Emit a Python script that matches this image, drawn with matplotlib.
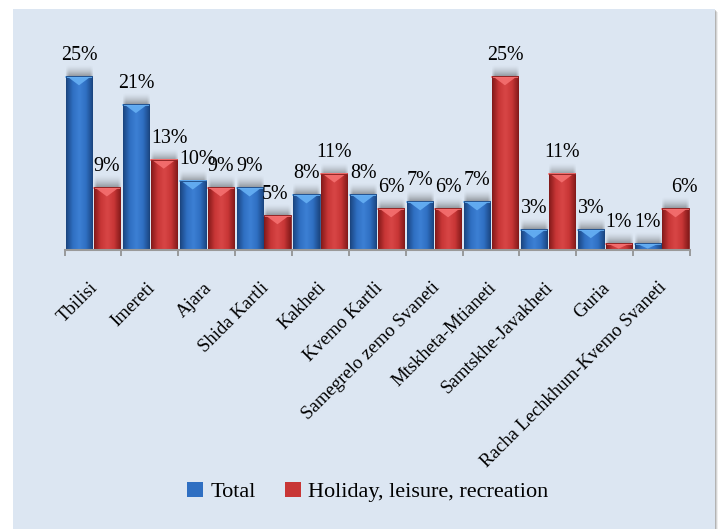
import matplotlib.pyplot as plt
import numpy as np
from matplotlib.colors import LinearSegmentedColormap
from matplotlib.patches import Rectangle, Polygon

regions = ['Tbilisi', 'Imereti', 'Ajara', 'Shida Kartli', 'Kakheti', 'Kvemo Kartli',
           'Samegrelo zemo Svaneti', 'Mtskheta-Mtianeti', 'Samtskhe-Javakheti', 'Guria',
           'Racha Lechkhum-Kvemo Svaneti']
total = [25, 21, 10, 9, 8, 8, 7, 7, 3, 3, 1]
holiday = [9, 13, 9, 5, 11, 6, 6, 25, 11, 1, 6]
seriesNames = ['Total', 'Holiday, leisure, recreation']

plt.rcParams['font.family'] = ['Liberation Serif', 'DejaVu Serif']

W, H = 722, 529
fig = plt.figure(figsize=(W / 100, H / 100), dpi=100)
fig.patch.set_facecolor('white')

# panel with a soft shadow on the right
for k, a in enumerate([0.10, 0.18, 0.28]):
    off = 3 - k
    fig.patches.append(Rectangle(((13 + off) / W, 0), 702 / W, (520 - off) / H,
                                 transform=fig.transFigure, facecolor='#606060',
                                 alpha=a, edgecolor='none', zorder=-3))
fig.patches.append(Rectangle((13 / W, 0), 702 / W, 520 / H, transform=fig.transFigure,
                             facecolor='#dce6f2', edgecolor='none', zorder=-2))

axTop, axBase = 30, 250
ax = fig.add_axes([64.5 / W, (H - axBase) / H, 625.5 / W, (axBase - axTop) / H])
ax.set_facecolor('none')
ymax = 25 * (axBase - axTop) / (axBase - 76.3)
pxY = ymax / (axBase - axTop)
pxX = 11 / 625.5

styles = {
    'Total': dict(dark='#1a4580', mid='#2f6fc2', light='#3d80d4', tri='#66b0f4', off=-0.245),
    'Holiday, leisure, recreation': dict(dark='#831a1a', mid='#c83636', light='#d84646',
                                          tri='#f57070', off=0.245),
}
nudges = {('Holiday, leisure, recreation', 1): 6, ('Total', 2): 5,
          ('Holiday, leisure, recreation', 3): -2, ('Holiday, leisure, recreation', 10): 9}
barW = 0.46
x = np.arange(len(regions))

# soft glow used above each bar top
gy = np.linspace(0, 1, 12)[:, None]
gx = np.linspace(-1, 1, 30)[None, :]
glow = np.zeros((12, 30, 4))
glow[..., :3] = 0.22
glow[..., 3] = 0.42 * (1 - gy) ** 1.6 * np.clip(1.4 * (1 - gx ** 4), 0, 1)


def drawBars(name, values):
    st = styles[name]
    bars = ax.bar(x + st['off'], values, barW, color=st['mid'], label=name, zorder=2)
    cmap = LinearSegmentedColormap.from_list(name, [st['dark'], st['mid'], st['light'],
                                                    st['mid'], st['dark']])
    grad = np.linspace(0, 1, 64).reshape(1, -1)
    for b, v in zip(bars, values):
        x0, x1 = b.get_x(), b.get_x() + b.get_width()
        ax.imshow(glow, extent=[x0 - pxX, x1 + pxX, v, v + 12 * pxY], aspect='auto',
                  origin='lower', interpolation='bilinear', zorder=1.5)
        ax.imshow(grad, cmap=cmap, extent=[x0, x1, 0, v], aspect='auto',
                  interpolation='bicubic', zorder=3)
        d = min(9 * pxY, v * 0.8)
        ax.add_patch(Polygon([(x0 + pxX, v), (x1 - pxX, v), ((x0 + x1) / 2, v - d)],
                             closed=True, facecolor=st['tri'], edgecolor='none',
                             alpha=0.9, zorder=4))
        ax.plot([x0, x1], [v - 0.5 * pxY, v - 0.5 * pxY], color=st['tri'], lw=1.2, zorder=4)
        ax.add_patch(Rectangle((x0, 0), x1 - x0, v, facecolor='none',
                               edgecolor=st['dark'], lw=0.6, zorder=5))
    for i, v in enumerate(values):
        ax.annotate(f'{v}%', (x[i] + st['off'], v), xytext=(nudges.get((name, i), 0) * 0.72, 15),
                    textcoords='offset points', ha='center', va='center', fontsize=14.4,
                    color='black', zorder=6, annotation_clip=False)
    return bars


drawBars(seriesNames[0], total)
drawBars(seriesNames[1], holiday)

for i, name in enumerate(regions):
    ax.annotate(name, (x[i], 0), xytext=(-2.5, -21), textcoords='offset points',
                ha='right', va='top', rotation=45, rotation_mode='anchor',
                fontsize=13.5, annotation_clip=False)

ax.set_xlim(-0.5, len(regions) - 0.5)
ax.set_ylim(0, ymax)
ax.set_xticks(np.arange(-0.5, len(regions), 1))
ax.set_xticklabels([])
ax.set_yticks([])
ax.tick_params(axis='x', direction='out', length=4.5, width=1.2, color='#8c8c8c')
for s in ['top', 'right', 'left']:
    ax.spines[s].set_visible(False)
ax.spines['bottom'].set_color('#9a9a9a')
ax.spines['bottom'].set_linewidth(1.5)
ax.spines['bottom'].set_zorder(7)

fig.legend(loc='center', bbox_to_anchor=(368 / W, (H - 492) / H), ncol=2, frameon=False,
           fontsize=16, handlelength=0.7, handleheight=0.7, handletextpad=0.35,
           columnspacing=1.3)

fig.savefig('out.png', dpi=100)
